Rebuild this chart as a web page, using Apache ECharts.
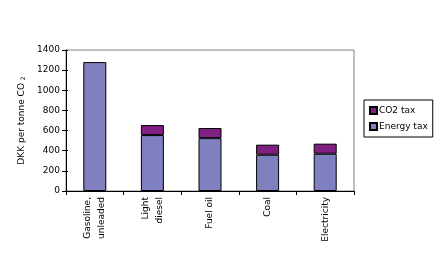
<!DOCTYPE html>
<html><head><meta charset="utf-8">
<script src="https://cdn.jsdelivr.net/npm/echarts@6/dist/echarts.min.js"></script>
<style>html,body{margin:0;padding:0;background:#fff}#c{width:444px;height:258px}</style>
</head><body><div id="c"></div>
<script>
var categories = ['Gasoline,\nunleaded', 'Light\ndiesel', 'Fuel oil', 'Coal', 'Electricity'];
var energyTax = [1280, 555, 525, 360, 370];
var co2Tax = ['-', 100, 100, 100, 100];
var yTicks = [0, 200, 400, 600, 800, 1000, 1200, 1400];

var chart = echarts.init(document.getElementById('c'), null, {renderer: 'canvas'});
var font = 'DejaVu Sans, Verdana, sans-serif';
chart.setOption({
  animation: false,
  backgroundColor: '#fff',
  textStyle: {fontFamily: font},
  grid: {left: 66, right: 90, top: 50, bottom: 67, show: true, borderColor: '#808080', borderWidth: 1, backgroundColor: 'transparent'},
  legend: {
    orient: 'vertical', left: 364, top: 100,
    data: ['CO2 tax', 'Energy tax'],
    itemWidth: 7, itemHeight: 7, itemGap: 7,
    padding: [6, 5, 6, 5],
    borderColor: '#000', borderWidth: 1,
    textStyle: {fontFamily: font, fontSize: 9, color: '#000', padding: [0, 0, 0, -3]},
    icon: 'rect'
  },
  xAxis: {
    type: 'category', data: categories,
    axisLine: {lineStyle: {color: '#000', width: 1}},
    axisTick: {show: true, length: 4, lineStyle: {color: '#000'}},
    axisLabel: {rotate: 90, fontSize: 9, color: '#000', fontFamily: font, margin: 6, interval: 0, lineHeight: 14, align: 'right'},
    splitLine: {show: false}
  },
  yAxis: [{
    type: 'value', min: 0, max: 1400, interval: 200,
    name: 'DKK per tonne CO {s|2}', nameLocation: 'middle', nameGap: 40, nameRotate: 90,
    nameTextStyle: {fontSize: 9, color: '#000', fontFamily: font, rich: {s: {fontSize: 6, verticalAlign: 'bottom', fontFamily: font, color: '#000'}}},
    axisLine: {show: true, lineStyle: {color: '#000', width: 1}},
    axisTick: {show: true, length: 4, lineStyle: {color: '#000'}},
    axisLabel: {fontSize: 9, color: '#000', fontFamily: font, margin: 6,
      formatter: function (v) { return yTicks.indexOf(v) >= 0 ? String(v) : ''; }},
    splitLine: {show: false}
  }, {
    type: 'value', min: 0, max: 1400, interval: 200, position: 'left',
    axisLine: {show: false},
    axisTick: {show: true, inside: true, length: 2, lineStyle: {color: '#000'}},
    axisLabel: {show: false},
    splitLine: {show: false}
  }],
  series: [
    {name: 'Energy tax', type: 'bar', stack: 't', data: energyTax, barWidth: 23,
      itemStyle: {color: '#8080c0', borderColor: '#000', borderWidth: 1}},
    {name: 'CO2 tax', type: 'bar', stack: 't', data: co2Tax, barWidth: 23,
      itemStyle: {color: '#802080', borderColor: '#000', borderWidth: 1}}
  ]
});
</script></body></html>
